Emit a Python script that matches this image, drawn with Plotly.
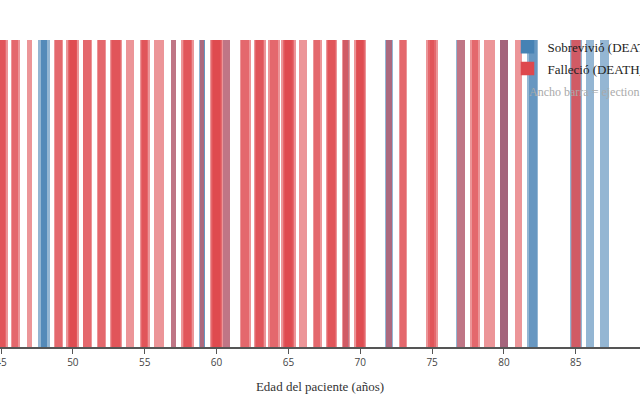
import plotly.graph_objects as go

# Patients who died (DEATH_EVENT=1): age and ejection fraction
died_age = [45, 45, 45, 46, 46, 47, 49, 49, 50, 50, 50, 50, 51, 51, 52, 52,
            53, 53, 53, 54, 55, 55, 55, 56, 57, 58, 58, 58, 59,
            60, 60, 60, 60, 60, 60.667, 62, 62, 63, 63, 63, 64, 64,
            65, 65, 65, 65, 65, 66, 67, 67, 68, 68, 68, 69, 69,
            70, 70, 70, 70, 72, 73, 73, 75, 75, 75, 77, 78, 78, 79, 80, 81,
            85, 85]
died_ef = [65, 50, 40, 42, 30, 22, 45, 35, 62, 45, 38, 30, 45, 38, 40, 35,
           62, 45, 35, 38, 50, 35, 25, 45, 25, 65, 45, 35, 20,
           65, 50, 40, 35, 30, 35, 55, 40, 60, 45, 35, 60, 38,
           70, 50, 40, 35, 30, 40, 45, 30, 50, 40, 35, 40, 25,
           60, 45, 38, 30, 30, 38, 30, 60, 40, 20, 40, 50, 30, 50, 35, 35,
           50, 40]

# Patients who survived (DEATH_EVENT=0): age and ejection fraction
surv_age = [48, 48, 48, 57, 59, 59, 60.667, 69, 72, 72, 77, 80, 80, 80,
            82, 82, 85, 86, 87]
surv_ef = [55, 30, 28, 25, 30, 25, 35, 30, 40, 30, 45, 40, 38, 35,
           55, 38, 60, 40, 40]

tick_vals = [45, 50, 55, 60, 65, 70, 75, 80, 85]

BLUE = "rgb(70,130,180)"
RED = "rgb(222,72,78)"
WSCALE = 70.0  # bar width (years) = ejection fraction / 70

fig = go.Figure()
fig.add_trace(go.Bar(
    x=surv_age, y=[1] * len(surv_age),
    width=[e / WSCALE for e in surv_ef],
    marker=dict(color=BLUE, opacity=0.58, line=dict(width=0)),
    showlegend=False, name="Sobrevivió (DEATH_EVENT=0)",
))
fig.add_trace(go.Bar(
    x=died_age, y=[1] * len(died_age),
    width=[e / WSCALE for e in died_ef],
    marker=dict(color=RED, opacity=0.58, line=dict(width=0)),
    showlegend=False, name="Falleció (DEATH_EVENT=1)",
))
# legend entries
fig.add_trace(go.Bar(x=[None], y=[None], name="Sobrevivió (DEATH_EVENT=0)",
                     legendgroup="s",
                     marker=dict(color=BLUE, opacity=0.8, line=dict(color=BLUE, width=1.5))))
fig.add_trace(go.Bar(x=[None], y=[None], name="Falleció (DEATH_EVENT=1)",
                     legendgroup="f",
                     marker=dict(color=RED, opacity=0.8, line=dict(color=RED, width=1.5))))

px_per_year = 14.37
x0 = 45 - 1 / px_per_year
x1 = x0 + 640 / px_per_year

fig.update_layout(
    width=640, height=400,
    margin=dict(l=0, r=0, t=40, b=53, autoexpand=False),
    barmode="overlay",
    bargap=0,
    plot_bgcolor="white", paper_bgcolor="white",
    font=dict(family="Liberation Serif", size=13, color="#333"),
    legend=dict(x=0.793, y=1.027, xanchor="left", yanchor="top", tracegroupgap=2,
                bgcolor="rgba(0,0,0,0)", font=dict(family="Liberation Serif", size=13, color="#222")),
    xaxis=dict(
        range=[x0, x1], tickvals=tick_vals, showgrid=False, zeroline=False,
        showline=True, linecolor="#555", linewidth=1.5,
        ticks="outside", ticklen=5, tickcolor="#555",
        ticklabeloverflow="allow",
        tickfont=dict(family="Open Sans", size=10, color="#444"),
        title=dict(text="Edad del paciente (años)", standoff=14,
                   font=dict(family="Liberation Serif", size=13, color="#333")),
    ),
    yaxis=dict(range=[0, 1], visible=False, fixedrange=True),
    annotations=[dict(
        xref="paper", yref="paper", x=0.823, y=0.83, xanchor="left", yanchor="middle",
        text="Ancho barra = ejection fraction", showarrow=False,
        font=dict(family="Liberation Serif", size=12, color="#aaa"),
    )],
)

fig.write_html("out.html")
